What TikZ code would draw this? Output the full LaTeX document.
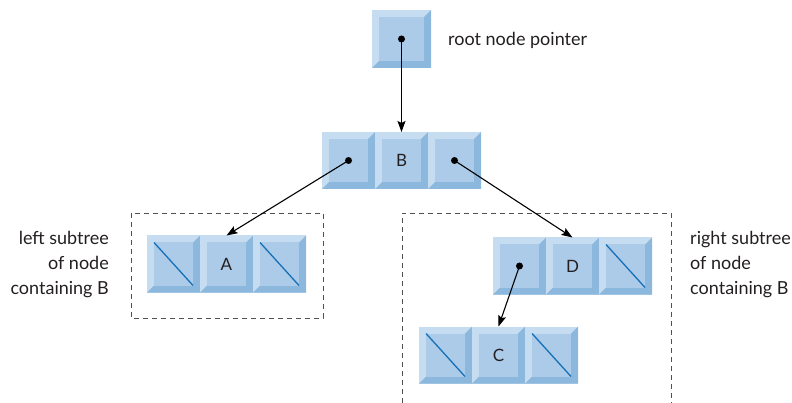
\documentclass[tikz,border=0pt]{standalone}
\usepackage{fontspec}
\setmainfont{Lato}
\usepackage{tikz}
\usetikzlibrary{arrows.meta,positioning,calc}
\definecolor{bevlight}{RGB}{197,220,241}
\definecolor{bevface}{RGB}{172,203,233}
\definecolor{bevdark}{RGB}{141,184,222}
\definecolor{nullblue}{RGB}{22,112,184}
\definecolor{txtgray}{RGB}{35,31,32}
\definecolor{dashgray}{RGB}{80,80,80}
\newcommand{\cellbevel}{%
  \fill[bevdark] (path picture bounding box.south west)
    -- (path picture bounding box.south east)
    -- (path picture bounding box.north east)
    -- ($(path picture bounding box.north east)+(-7pt,-7pt)$)
    -- ($(path picture bounding box.south east)+(-7pt,7pt)$)
    -- ($(path picture bounding box.south west)+(7pt,7pt)$) -- cycle;
  \fill[bevface] ($(path picture bounding box.south west)+(7pt,7pt)$)
    rectangle ($(path picture bounding box.north east)+(-7pt,-7pt)$);}
\tikzset{
  cell/.style={fill=bevlight,minimum width=53pt,minimum height=57pt,
    inner sep=0pt,outer sep=0pt,text=txtgray,font=\fontsize{17}{20}\selectfont,
    path picture={\cellbevel}},
  nullcell/.style={cell,path picture={\cellbevel
    \draw[nullblue,line width=1.3pt]
      ($(path picture bounding box.north west)+(7pt,-7pt)$)
      -- ($(path picture bounding box.south east)+(-7pt,7pt)$);}},
  ptr/.style={line width=1.1pt,-{Stealth[length=11pt,width=8pt,inset=2pt]}},
  subbox/.style={dashgray,line width=0.9pt,dash pattern=on 5pt off 4pt},
  lbl/.style={font=\fontsize{18}{25}\selectfont,text=txtgray,inner sep=0pt}
}
\begin{document}
\begin{tikzpicture}[x=1pt,y=-1pt]
  \useasboundingbox (0,0) rectangle (792,403);

  %% root node pointer
  \node[cell,minimum width=59pt,minimum height=58pt] (root) at (401.5,39) {};
  \node[lbl,anchor=west] (rootlbl) at (448,40) {root node pointer};

  %% node containing B
  \node[cell] (bl) at (348.5,160.5) {};
  \node[cell,right=0pt of bl] (bv) {B};
  \node[cell,right=0pt of bv] (br) {};

  %% left subtree
  \node[nullcell] (al) at (173.5,264) {};
  \node[cell,right=0pt of al] (av) {A};
  \node[nullcell,right=0pt of av] (ar) {};
  \draw[subbox] (131,213) rectangle (323,318);
  \node[lbl,anchor=east,align=right] (leftlbl) at (109,265)
        {left subtree\\of node\\containing B};

  %% right subtree
  \node[cell] (dl) at (519.5,266) {};
  \node[cell,right=0pt of dl] (dv) {D};
  \node[nullcell,right=0pt of dv] (dr) {};
  \node[nullcell] (cl) at (445.5,355) {};
  \node[cell,right=0pt of cl] (cv) {C};
  \node[nullcell,right=0pt of cv] (cr) {};
  \draw[subbox] (402,403) -- (402,213) -- (671,213) -- (671,403);
  \node[lbl,anchor=west,align=left] (rightlbl) at (690,265)
        {right subtree\\of node\\containing B};

  %% pointers
  \foreach \p in {root,bl,br,dl}
    \fill (\p.center) circle (3.5pt);
  \draw[ptr] (root.center) -- (bv.north);
  \draw[ptr] (bl.center) -- (av.north);
  \draw[ptr] (br.center) -- (dv.north);
  \draw[ptr] (dl.center) -- (cv.north);
\end{tikzpicture}
\end{document}
